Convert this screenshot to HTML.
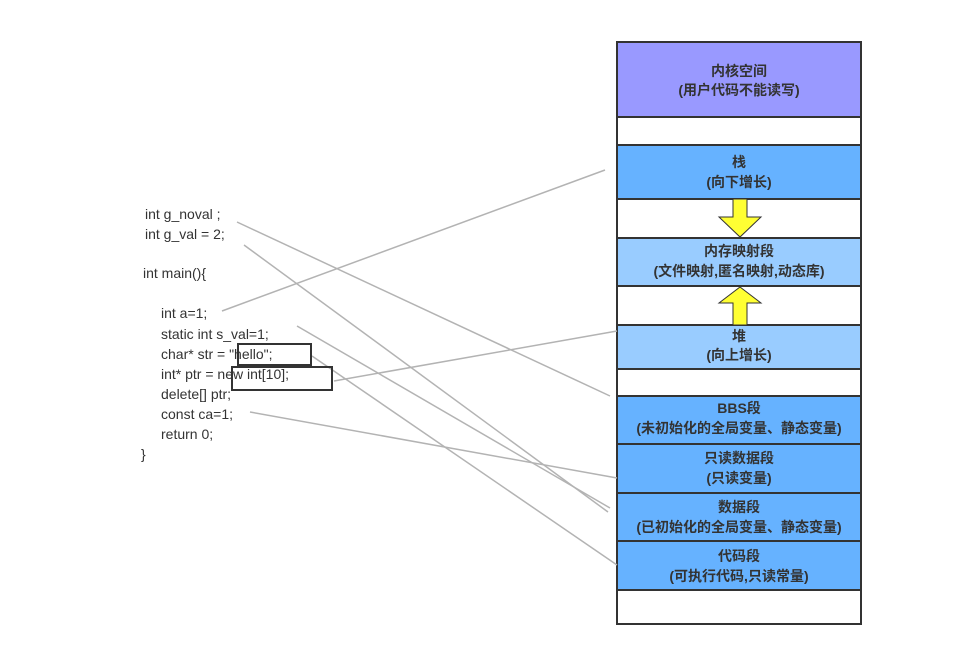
<!DOCTYPE html>
<html><head><meta charset="utf-8"><style>
body{margin:0;background:#fff;}
svg text{font-family:"Liberation Sans","Noto Sans CJK SC",sans-serif;}
</style></head><body>
<svg width="956" height="649" viewBox="0 0 956 649" xmlns="http://www.w3.org/2000/svg">
<g stroke="#333" stroke-width="2">
<rect x="617" y="42" width="244" height="75" fill="#9999ff"/>
<rect x="617" y="117" width="244" height="28" fill="#fff"/>
<rect x="617" y="145" width="244" height="54" fill="#66b2ff"/>
<rect x="617" y="199" width="244" height="39" fill="#fff"/>
<rect x="617" y="238" width="244" height="48" fill="#99ccff"/>
<rect x="617" y="286" width="244" height="39" fill="#fff"/>
<rect x="617" y="325" width="244" height="44" fill="#99ccff"/>
<rect x="617" y="369" width="244" height="27" fill="#fff"/>
<rect x="617" y="396" width="244" height="48" fill="#66b2ff"/>
<rect x="617" y="444" width="244" height="49" fill="#66b2ff"/>
<rect x="617" y="493" width="244" height="48" fill="#66b2ff"/>
<rect x="617" y="541" width="244" height="49" fill="#66b2ff"/>
<rect x="617" y="590" width="244" height="34" fill="#fff"/>
</g>
<g fill="#ffff33" stroke="#333" stroke-width="1">
<polygon points="733,199 747,199 747,217 761,217 740,237 719,217 733,217"/>
<polygon points="740,287 761,303 747,303 747,325 733,325 733,303 719,303"/>
</g>
<g font-size="14" fill="#333" text-anchor="middle" font-weight="bold">
<text x="739" y="76">内核空间</text><text x="739" y="95">(用户代码不能读写)</text>
<text x="739" y="167">栈</text><text x="739" y="187">(向下增长)</text>
<text x="739" y="256">内存映射段</text><text x="739" y="276">(文件映射,匿名映射,动态库)</text>
<text x="739" y="341">堆</text><text x="739" y="360">(向上增长)</text>
<text x="739" y="413">BBS段</text><text x="739" y="433">(未初始化的全局变量、静态变量)</text>
<text x="739" y="463">只读数据段</text><text x="739" y="483">(只读变量)</text>
<text x="739" y="512">数据段</text><text x="739" y="532">(已初始化的全局变量、静态变量)</text>
<text x="739" y="561">代码段</text><text x="739" y="581">(可执行代码,只读常量)</text>
</g>
<g stroke="#b3b3b3" stroke-width="1.5" fill="none">
<line x1="237" y1="222" x2="610" y2="396"/>
<line x1="244" y1="245" x2="608" y2="512"/>
<line x1="222" y1="311" x2="605" y2="170"/>
<line x1="297" y1="326" x2="610" y2="508"/>
<line x1="312" y1="356" x2="617" y2="565"/>
<line x1="334" y1="381" x2="617" y2="331"/>
<line x1="250" y1="412" x2="617" y2="478"/>
</g>
<g font-size="14" fill="#333">
<text x="145" y="219">int g_noval ;</text>
<text x="145" y="239">int g_val  = 2;</text>
<text x="143" y="278">int main(){</text>
<text x="161" y="318">int a=1;</text>
<text x="161" y="339">static int s_val=1;</text>
<text x="161" y="359">char* str = "hello";</text>
<text x="161" y="379">int* ptr = new int[10];</text>
<text x="161" y="399">delete[] ptr;</text>
<text x="161" y="419">const ca=1;</text>
<text x="161" y="439">return 0;</text>
<text x="141" y="459">}</text>
</g>
<g fill="none" stroke="#333" stroke-width="2">
<rect x="238" y="344" width="73" height="21"/>
<rect x="232" y="367" width="100" height="23"/>
</g>
</svg>
</body></html>
